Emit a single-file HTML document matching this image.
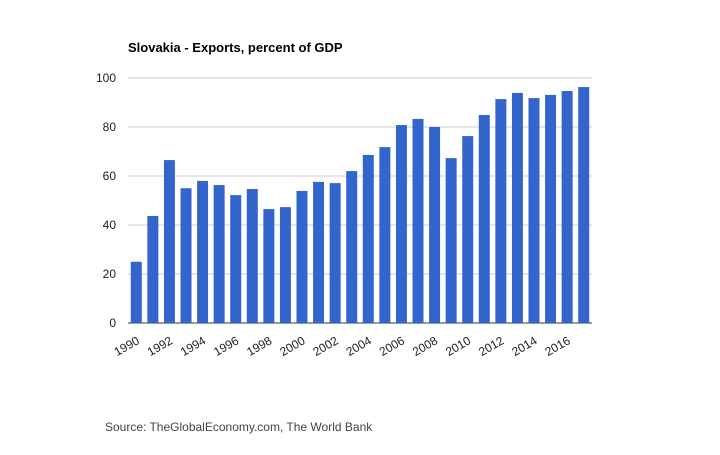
<!DOCTYPE html>
<html><head><meta charset="utf-8"><style>
body{margin:0;background:#fff;}
svg{font-family:"Liberation Sans",Arial,sans-serif;}
</style></head><body>
<svg id="c" width="720" height="450">
<text x="128" y="52" font-size="13" font-weight="bold" fill="#000">Slovakia - Exports, percent of GDP</text>
<g id="grid"></g><g id="bars"></g><g id="xl"></g>
<text x="105" y="431" font-size="12" fill="#444">Source: TheGlobalEconomy.com, The World Bank</text>
</svg>
<script>
const years=[1990,1991,1992,1993,1994,1995,1996,1997,1998,1999,2000,2001,2002,2003,2004,2005,2006,2007,2008,2009,2010,2011,2012,2013,2014,2015,2016,2017];
const values=[25,43.7,66.5,55,58,56.3,52.2,54.7,46.5,47.3,53.9,57.6,57.1,62,68.6,71.8,80.8,83.3,80,67.3,76.3,84.9,91.4,93.9,91.8,93.1,94.7,96.3];
const yTicks=[0,20,40,60,80,100];
const ns="http://www.w3.org/2000/svg";
const x0=128,x1=592,yB=323,yT=78;
const y=v=>yB-(v/100)*(yB-yT);
const step=(x1-x0)/years.length;
const xc=i=>x0+step*(i+0.5);
function mk(t,a,p){const e=document.createElementNS(ns,t);for(const k in a)e.setAttribute(k,a[k]);p.appendChild(e);return e;}
const g=document.getElementById('grid');
yTicks.forEach(t=>{
 const l=mk('line',{x1:x0,x2:x1,y1:y(t),y2:y(t),stroke:t===0?'#333':'#ccc','stroke-width':1},g);
 
 
 const tx=mk('text',{x:x0-12,y:y(t)+4,'font-size':12,'text-anchor':'end',fill:'#222'},g);
 tx.textContent=t;
 
 
});
const b=document.getElementById('bars');
values.forEach((v,i)=>{
 const r=mk('rect',{x:xc(i)-5.5,y:y(v),width:11,height:yB-y(v),fill:'#3366cc'},b);
 
 
});
mk('line',{x1:x0,x2:x1,y1:yB,y2:yB,stroke:'#333','stroke-width':1},g);
const xl=document.getElementById('xl');
years.forEach((yr,i)=>{
 if(i%2)return;
 const tx=mk('text',{x:xc(i)+4,y:yB+20,'font-size':12,'text-anchor':'end',fill:'#222',transform:`rotate(-30 ${xc(i)+4} ${yB+20})`},xl);
 tx.textContent=yr;
 
 
});
</script>
</body></html>
